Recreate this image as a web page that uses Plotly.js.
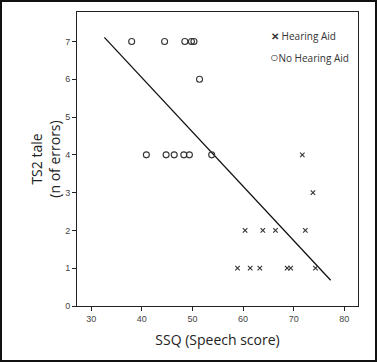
<!DOCTYPE html>
<html>
<head>
<meta charset="utf-8">
<script src="https://cdn.plot.ly/plotly-3.0.1.min.js"></script>
<style>
html,body{margin:0;padding:0;background:#fff;}
#wrap{width:377px;height:362px;box-sizing:border-box;border:2px solid #111;overflow:hidden;}
#chart{width:373px;height:358px;}
</style>
</head>
<body>
<div id="wrap"><div id="chart"></div></div>
<script>
// Data
var noAidX = [38.0, 44.5, 48.5, 49.8, 50.3, 51.4, 40.9, 44.8, 46.4, 48.3, 49.4, 53.8];
var noAidY = [7, 7, 7, 7, 7, 6, 4, 4, 4, 4, 4, 4];
var aidX = [71.7, 73.8, 60.4, 63.9, 66.4, 72.3, 58.9, 61.4, 63.3, 68.7, 69.4, 74.3];
var aidY = [4, 3, 2, 2, 2, 2, 1, 1, 1, 1, 1, 1];
var fitX = [32.6, 77.3];
var fitY = [7.11, 0.68];
var xTicks = [30, 40, 50, 60, 70, 80];
var yTicks = [0, 1, 2, 3, 4, 5, 6, 7];
var legendLabels = ['Hearing Aid', 'No Hearing Aid'];

var traces = [
  {x: fitX, y: fitY, mode: 'lines', line: {color: '#111', width: 1.3}, showlegend: false, hoverinfo: 'skip'},
  {x: aidX, y: aidY, mode: 'markers', name: legendLabels[0], showlegend: false,
   marker: {symbol: 'x-thin-open', size: 4.5, color: '#333', line: {color: '#333', width: 1.1}}},
  {x: noAidX, y: noAidY, mode: 'markers', name: legendLabels[1], showlegend: false,
   marker: {symbol: 'circle-open', size: 6, color: '#333', line: {color: '#333', width: 1.1}}}
];

var legFont = {family: 'Open Sans, Arial, sans-serif', size: 10, color: '#333'};
var layout = {
  width: 373, height: 358,
  margin: {l: 75, r: 17, t: 10, b: 54},
  paper_bgcolor: '#fff', plot_bgcolor: '#fff',
  showlegend: false,
  annotations: [
    {xref: 'paper', yref: 'paper', x: 0.685, y: 0.918, xanchor: 'left', yanchor: 'middle', showarrow: false,
     text: '<b>✕</b> ' + legendLabels[0], font: legFont},
    {xref: 'paper', yref: 'paper', x: 0.681, y: 0.85, xanchor: 'left', yanchor: 'middle', showarrow: false,
     text: '<span style="font-size:14px">○</span>' + legendLabels[1], font: legFont}
  ],
  xaxis: {
    range: [27.2, 82.7], tickvals: xTicks, ticks: 'outside', ticklen: 4, tickcolor: '#222', tickwidth: 1,
    showline: true, mirror: true, linecolor: '#222', linewidth: 1, showgrid: false, zeroline: false,
    tickfont: {family: 'Arial, Liberation Sans, sans-serif', size: 9, color: '#444'},
    title: {text: 'SSQ (Speech score)', font: {family: 'Open Sans, Arial, sans-serif', size: 14, color: '#222'}, standoff: 12}
  },
  yaxis: {
    range: [0, 7.78], tickvals: yTicks, ticks: 'outside', ticklen: 4, tickcolor: '#222', tickwidth: 1,
    showline: true, mirror: true, linecolor: '#222', linewidth: 1, showgrid: false, zeroline: false,
    tickfont: {family: 'Arial, Liberation Sans, sans-serif', size: 9, color: '#444'},
    title: {text: 'TS2 tale<br>(n of errors)', font: {family: 'Open Sans, Arial, sans-serif', size: 14, color: '#222'}, standoff: 1}
  }
};

Plotly.newPlot('chart', traces, layout, {displayModeBar: false, staticPlot: true});
</script>
</body>
</html>
